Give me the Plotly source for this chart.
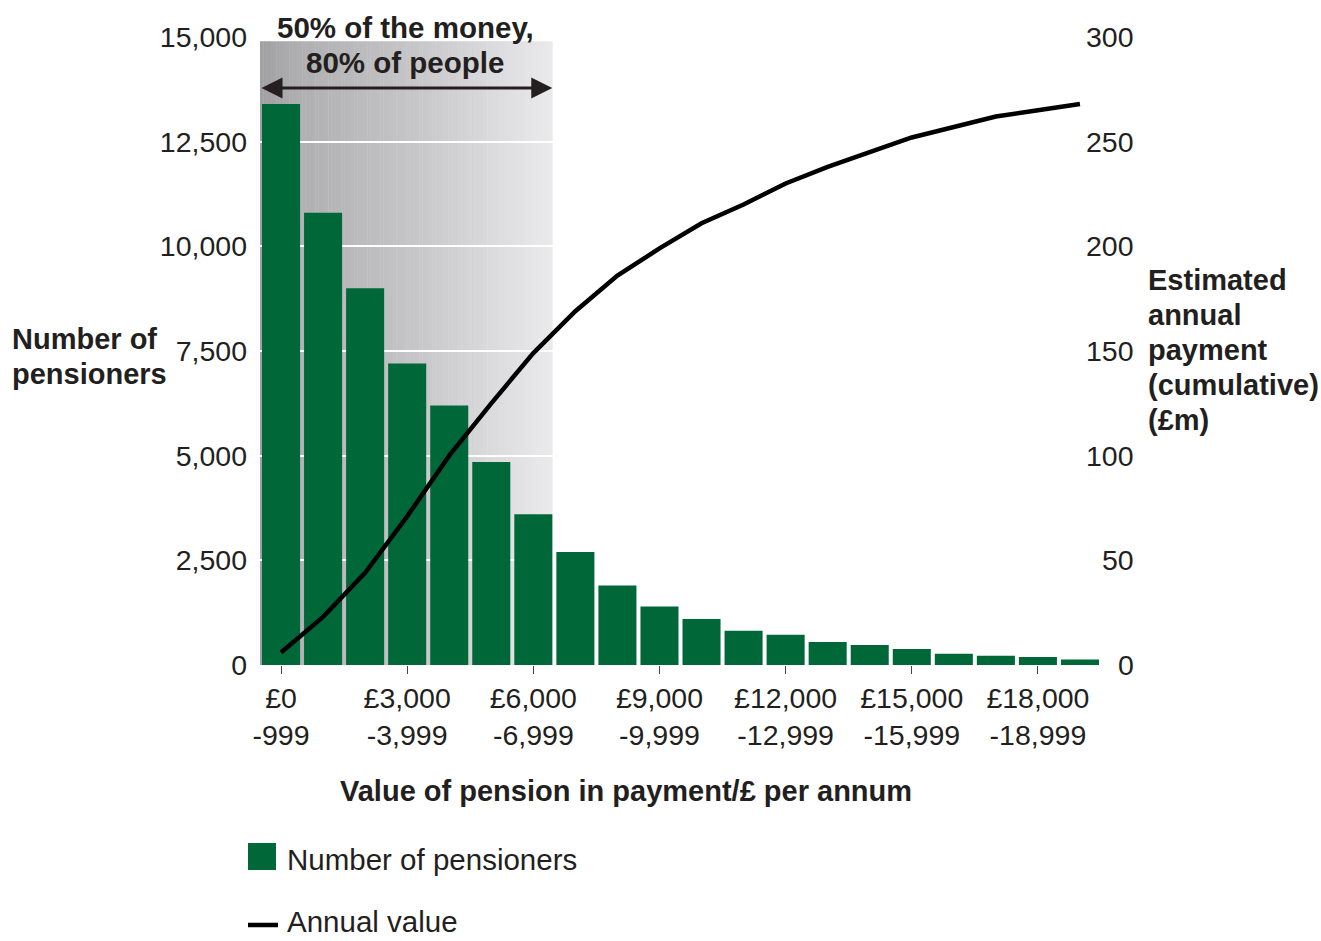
import plotly.graph_objects as go

# Pension bands (£ per annum), lower bound of each £1,000 band
band_lower = [0, 1000, 2000, 3000, 4000, 5000, 6000, 7000, 8000, 9000,
              10000, 11000, 12000, 13000, 14000, 15000, 16000, 17000, 18000, 19000]

# Number of pensioners in each band
pensioners = [13400, 10800, 9000, 7200, 6200, 4850, 3600, 2700, 1900, 1400,
              1100, 820, 720, 550, 480, 380, 270, 220, 190, 130]

# Estimated annual payment, cumulative (£m)
annual_value = [6, 23, 44, 71, 100, 125, 149, 169, 186, 199,
                211, 220, 230, 238, 245, 252, 257, 262, 265, 268]

left_ticks = [0, 2500, 5000, 7500, 10000, 12500, 15000]
right_ticks = [0, 50, 100, 150, 200, 250, 300]
labelled_bands = [0, 3, 6, 9, 12, 15, 18]

FONT = "Liberation Sans"
INK = "#231f20"
GREEN = "#006838"

W, H = 1321, 941
L, R, T, B = 260, 220, 37, 276
PW, PH = W - L - R, H - T - B


def px_x(px):
    return (px - L) / PW


def px_y(px):
    return (H - B - px) / PH


x = list(range(len(band_lower)))


def band_text(lo):
    return f"£{lo:,}<br>-{lo + 999:,}"


fig = go.Figure()
fig.add_trace(go.Bar(x=x, y=pensioners, marker=dict(color=GREEN, line=dict(width=0)),
                     name="Number of pensioners", yaxis="y"))
fig.add_trace(go.Scatter(x=x, y=annual_value, mode="lines",
                         line=dict(color="black", width=4.5),
                         name="Annual value", yaxis="y2"))

# Grey gradient band behind the first seven bars
shapes = []
x0, x1 = -0.5, 6.45
stops = [(0.0, 160), (0.13, 175), (0.53, 198), (0.94, 230), (1.0, 234)]


def grey(t):
    for (a, ca), (b, cb) in zip(stops[:-1], stops[1:]):
        if a <= t <= b:
            v = ca + (cb - ca) * (t - a) / (b - a)
            return int(round(v))
    return stops[-1][1]


N = 90
for i in range(N):
    t = (i + 0.5) / N
    g = grey(t)
    g2 = min(255, g + 2)
    shapes.append(dict(type="rect", xref="x", yref="y", layer="below",
                       x0=x0 + (x1 - x0) * i / N, x1=x0 + (x1 - x0) * (i + 1) / N + 0.01,
                       y0=0, y1=14900, line=dict(width=0),
                       fillcolor=f"rgb({g},{g},{g2})"))

# Hand-made legend
shapes.append(dict(type="rect", xref="paper", yref="paper",
                   x0=px_x(248), x1=px_x(276), y0=px_y(870), y1=px_y(843),
                   fillcolor=GREEN, line=dict(width=0)))
shapes.append(dict(type="line", xref="paper", yref="paper",
                   x0=px_x(248), x1=px_x(278), y0=px_y(925), y1=px_y(925),
                   line=dict(color="black", width=4.5)))

annotations = []


def text_lines(lines, x_px, y_first, step, anchor, bold=True, size=29):
    for k, line in enumerate(lines):
        annotations.append(dict(x=px_x(x_px), y=px_y(y_first + k * step),
                                xref="paper", yref="paper",
                                text=f"<b>{line}</b>" if bold else line,
                                showarrow=False, xanchor=anchor, yanchor="middle",
                                borderpad=0,
                                font=dict(family=FONT, size=size, color=INK)))


# Double-headed arrow across the shaded band
annotations.append(dict(x=x1, y=13780, ax=x0, ay=13780, xref="x", yref="y",
                        axref="x", ayref="y", text="", showarrow=True,
                        arrowside="end+start", arrowhead=2, startarrowhead=2,
                        arrowsize=1.4, startarrowsize=1.4, arrowwidth=3,
                        arrowcolor=INK))
text_lines(["50% of the money,", "80% of people"], 405, 28, 34, "center", size=29.5)

# Right-hand axis labels
for v in right_ticks:
    annotations.append(dict(x=px_x(1136), y=v, xref="paper", yref="y2",
                            text=str(v), showarrow=False, xanchor="right",
                            yanchor="middle",
                            font=dict(family=FONT, size=28.5, color=INK)))

# Axis titles
text_lines(["Number of", "pensioners"], 11, 339, 35, "left")
text_lines(["Estimated", "annual", "payment", "(cumulative)", "(£m)"],
           1147, 280, 35, "left")
text_lines(["Value of pension in payment/£ per annum"], 626, 791, 0, "center")

# Legend texts
text_lines(["Number of pensioners"], 286, 859, 0, "left", bold=False, size=29.5)
text_lines(["Annual value"], 286, 921, 0, "left", bold=False, size=29.5)

fig.update_layout(
    width=W, height=H,
    margin=dict(l=L, r=R, t=T, b=B, pad=0),
    paper_bgcolor="white", plot_bgcolor="white",
    showlegend=False, bargap=0.095,
    font=dict(family=FONT, size=28, color=INK),
    xaxis=dict(range=[-0.5, 19.5], tickvals=labelled_bands,
               ticktext=[band_text(band_lower[i]) for i in labelled_bands],
               ticks="outside", ticklen=8, tickwidth=1, tickcolor="#444",
               showgrid=False, zeroline=False, showline=False,
               tickfont=dict(family=FONT, size=28.5, color=INK)),
    yaxis=dict(range=[0, 15000], tickvals=left_ticks, tickformat=",",
               showgrid=True, gridcolor="white", gridwidth=1.5,
               zeroline=False, showline=False, ticks="",
               ticklabelstandoff=12,
               tickfont=dict(family=FONT, size=28.5, color=INK)),
    yaxis2=dict(range=[0, 300], overlaying="y", side="right",
                showgrid=False, zeroline=False, showline=False,
                showticklabels=False, ticks=""),
    shapes=shapes,
    annotations=annotations,
)

fig.write_html("out.html")
